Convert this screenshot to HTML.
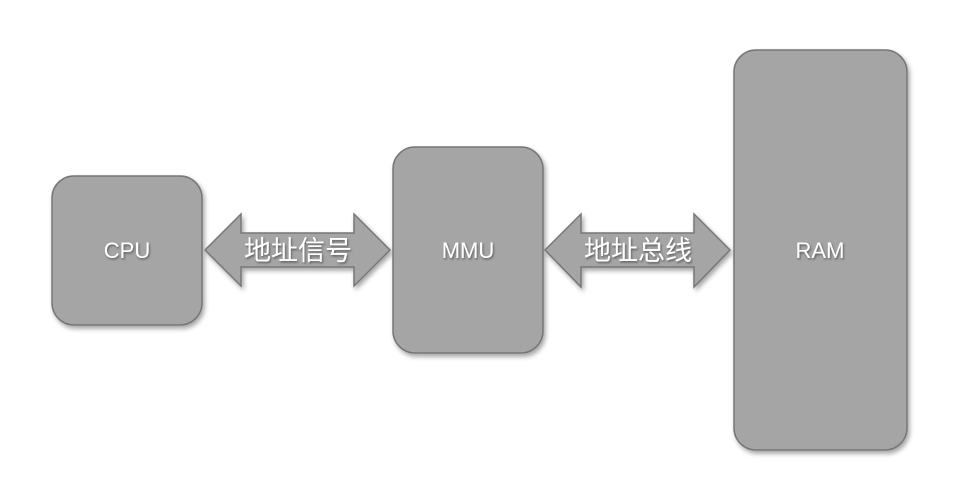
<!DOCTYPE html>
<html><head><meta charset="utf-8"><style>
html,body{margin:0;padding:0;background:#fff;}
svg{display:block;}
text{font-family:"Liberation Sans","Noto Sans CJK SC",sans-serif;fill:#fff;}
</style></head><body>
<svg width="973" height="484" viewBox="0 0 973 484">
<defs>
<filter id="sh" x="-20%" y="-20%" width="140%" height="140%">
<feDropShadow dx="2" dy="3" stdDeviation="2.5" flood-color="#000" flood-opacity="0.35"/>
</filter>
<filter id="ts" x="-10%" y="-20%" width="120%" height="140%">
<feDropShadow dx="1" dy="1.5" stdDeviation="1" flood-color="#000" flood-opacity="0.45"/>
</filter>
</defs>
<g fill="#a5a5a5" stroke="#767676" stroke-width="1.5" filter="url(#sh)">
<rect x="52" y="176" width="150" height="149" rx="22"/>
<rect x="393" y="147" width="150" height="206" rx="22"/>
<rect x="734" y="50" width="173" height="400" rx="22"/>
<polygon points="205,250 241,214 241,233 354,233 354,214 390,250 354,286 354,267 241,267 241,286"/>
<polygon points="545,250 581,214 581,233 694,233 694,214 730,250 694,287 694,267 581,267 581,287"/>
</g>
<g font-size="22" text-anchor="middle" filter="url(#ts)">
<text x="127" y="258">CPU</text>
<text x="468" y="258">MMU</text>
<text x="820" y="258">RAM</text>
<text x="298" y="260" font-size="27">地址信号</text>
<text x="638" y="260" font-size="27">地址总线</text>
</g>
</svg>
</body></html>
